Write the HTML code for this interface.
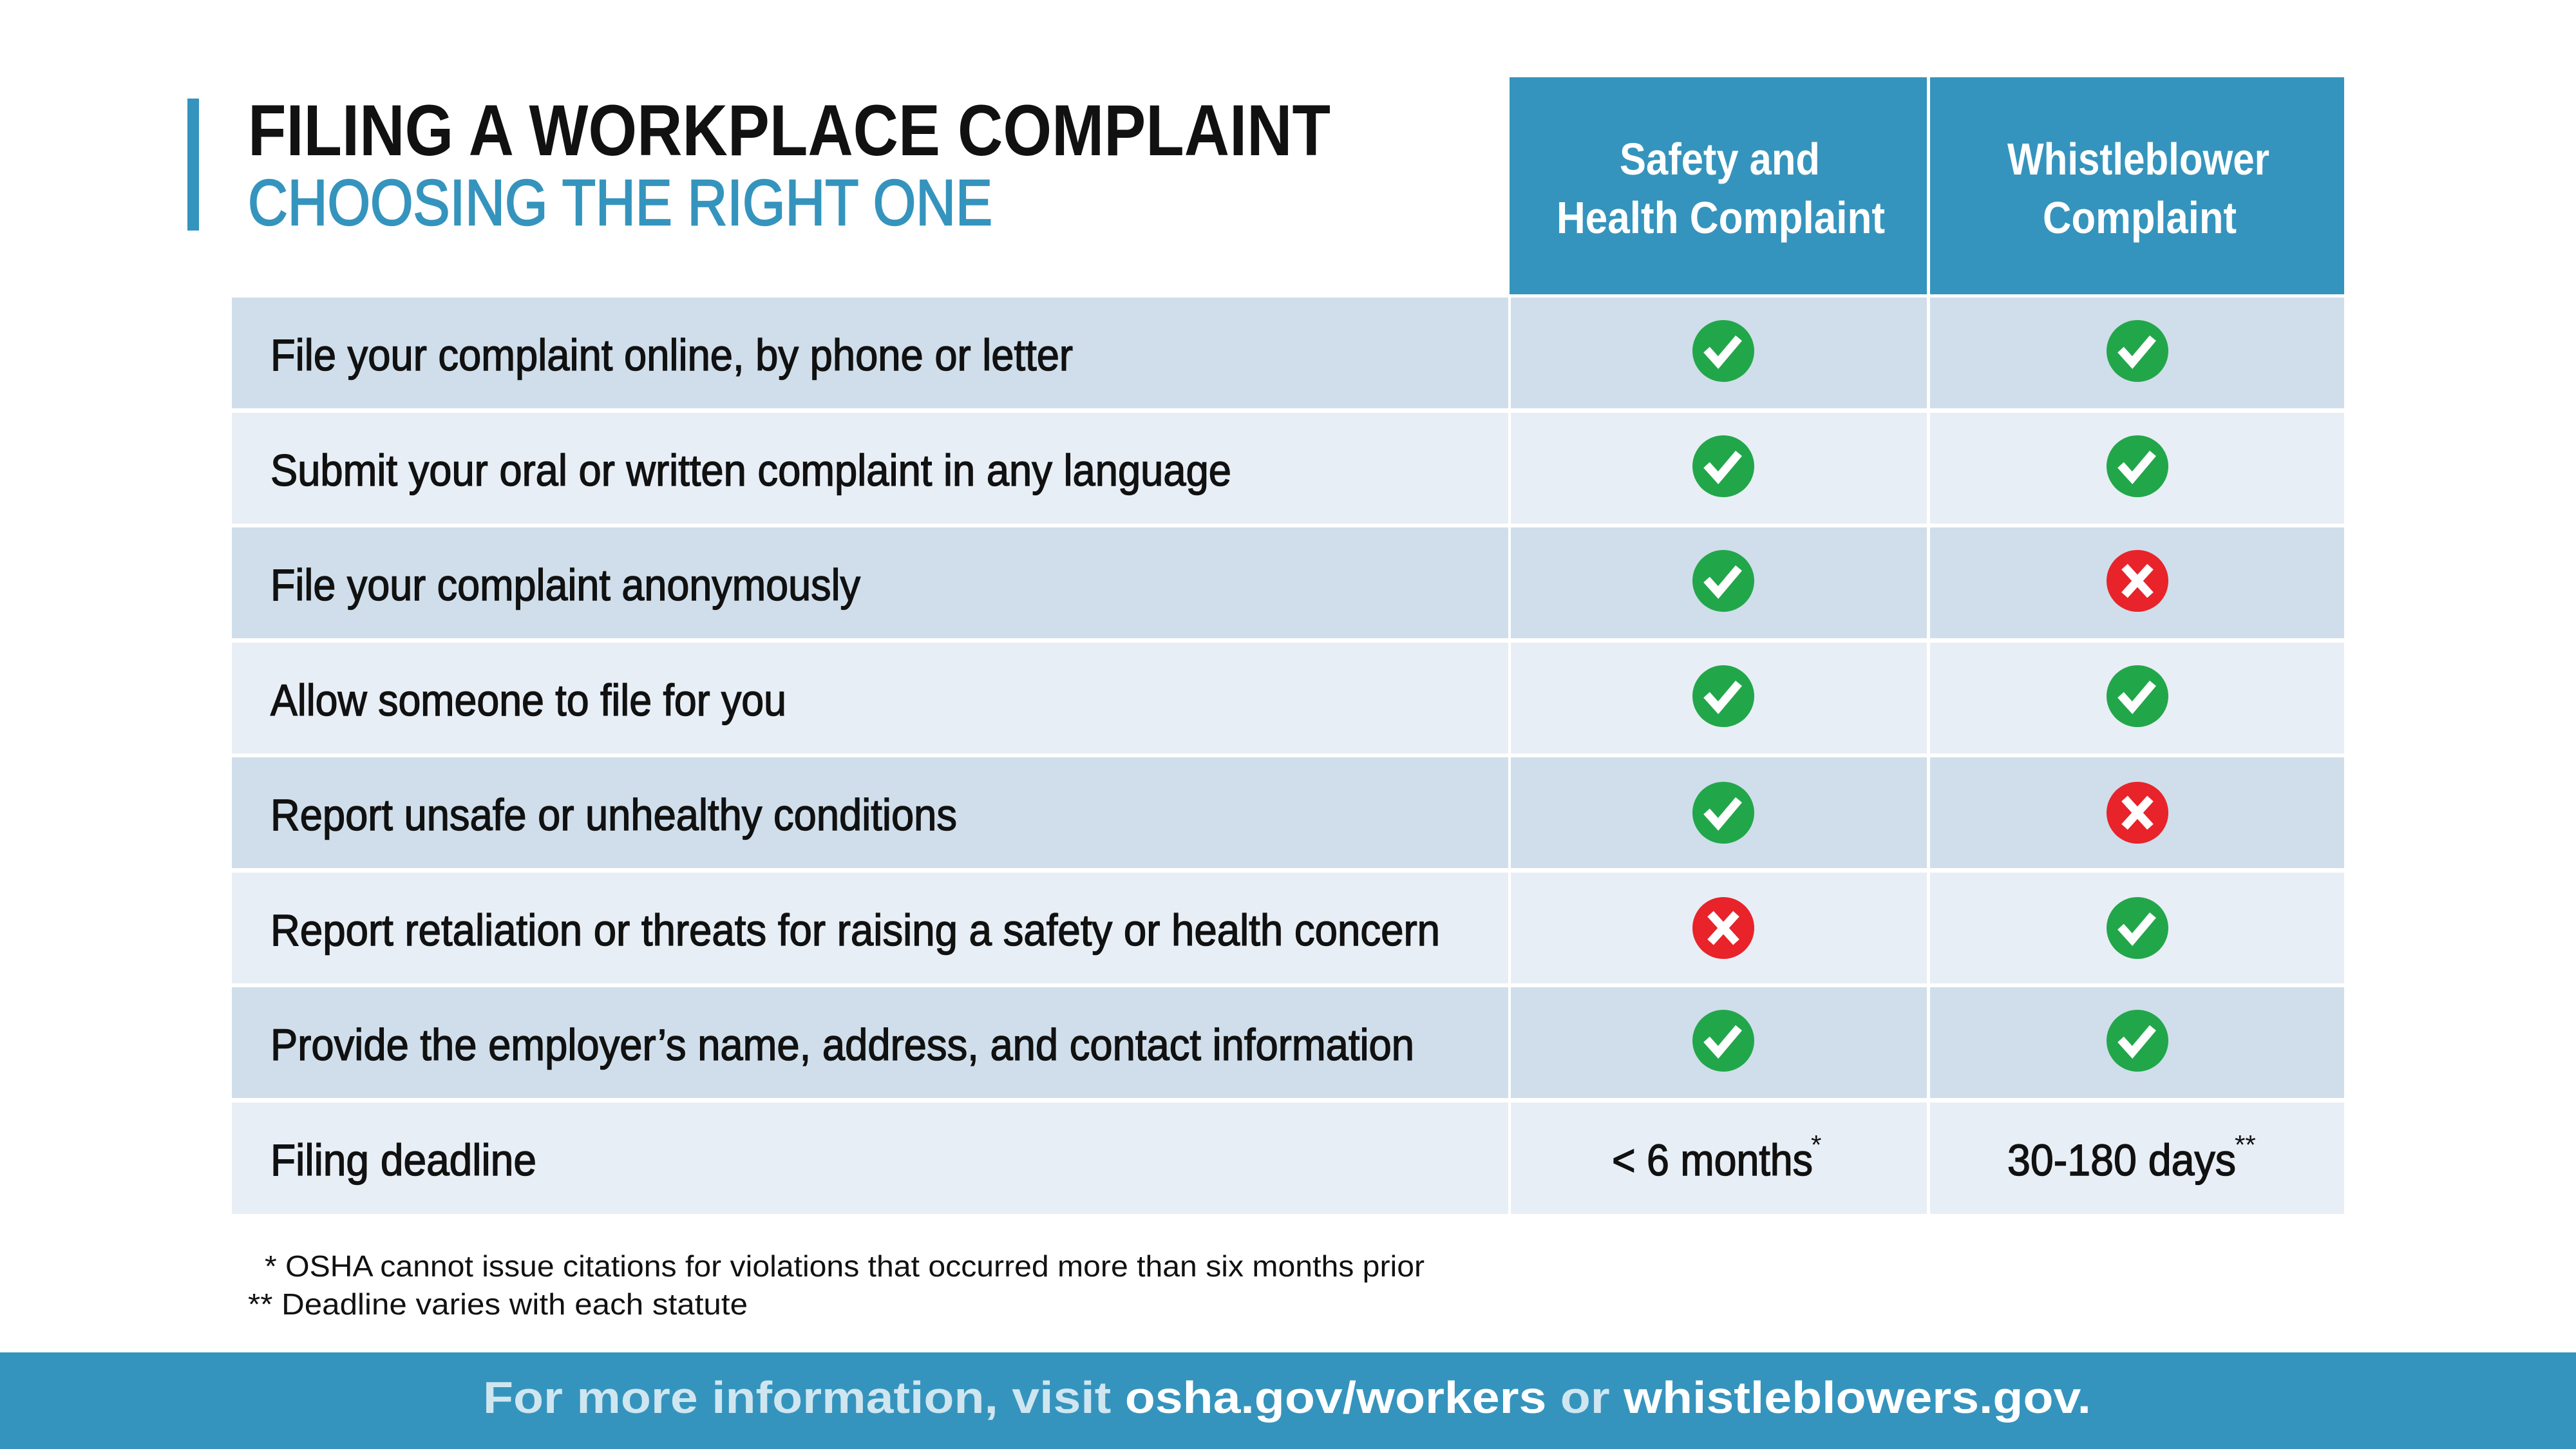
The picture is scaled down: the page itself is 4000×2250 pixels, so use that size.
<!DOCTYPE html>
<html><head><meta charset="utf-8"><style>
html,body{margin:0;padding:0;background:#fff;}
svg{display:block;}
text{font-family:"Liberation Sans Narrow","Liberation Sans",sans-serif;}
</style></head><body>
<svg width="4000" height="2250" viewBox="0 0 4000 2250" xmlns="http://www.w3.org/2000/svg">
<rect width="4000" height="2250" fill="#fff"/>
<rect x="291" y="153" width="18" height="205" fill="#3594bd"/>
<text x="385" y="241" font-size="112" font-weight="bold" fill="#111" textLength="1681" lengthAdjust="spacingAndGlyphs">FILING A WORKPLACE COMPLAINT</text>
<text x="385" y="349" font-size="100" fill="#3594bd" stroke="#3594bd" stroke-width="2.5" textLength="1156" lengthAdjust="spacingAndGlyphs">CHOOSING THE RIGHT ONE</text>
<rect x="2344" y="120" width="648" height="337" fill="#3594bd"/>
<rect x="2997" y="120" width="643" height="337" fill="#3594bd"/>
<g font-size="70" font-weight="bold" fill="#fff">
<text x="2515" y="271" textLength="311" lengthAdjust="spacingAndGlyphs">Safety and</text>
<text x="2417" y="362" textLength="510" lengthAdjust="spacingAndGlyphs">Health Complaint</text>
<text x="3117" y="271" textLength="407" lengthAdjust="spacingAndGlyphs">Whistleblower</text>
<text x="3172" y="362" textLength="301" lengthAdjust="spacingAndGlyphs">Complaint</text>
</g>
<defs>
<g id="ck"><ellipse cx="0" cy="0" rx="48" ry="48" fill="#22a64a"/><polyline points="-26,-2 -8,18 24,-20" fill="none" stroke="#fff" stroke-width="13"/></g>
<g id="xx"><ellipse cx="0" cy="0" rx="48" ry="48" fill="#e8232a"/><path d="M-20,-22 L20,22 M20,-22 L-20,22" stroke="#fff" stroke-width="13"/></g>
</defs>
<g fill="#cfdeea">
<rect x="360" y="462" width="1982" height="172"/><rect x="2346" y="462" width="646" height="172"/><rect x="2997" y="462" width="643" height="172"/>
<rect x="360" y="819" width="1982" height="172"/><rect x="2346" y="819" width="646" height="172"/><rect x="2997" y="819" width="643" height="172"/>
<rect x="360" y="1176" width="1982" height="172"/><rect x="2346" y="1176" width="646" height="172"/><rect x="2997" y="1176" width="643" height="172"/>
<rect x="360" y="1533" width="1982" height="172"/><rect x="2346" y="1533" width="646" height="172"/><rect x="2997" y="1533" width="643" height="172"/>
</g>
<g fill="#e8eef5">
<rect x="360" y="641" width="1982" height="172"/><rect x="2346" y="641" width="646" height="172"/><rect x="2997" y="641" width="643" height="172"/>
<rect x="360" y="998" width="1982" height="172"/><rect x="2346" y="998" width="646" height="172"/><rect x="2997" y="998" width="643" height="172"/>
<rect x="360" y="1355" width="1982" height="172"/><rect x="2346" y="1355" width="646" height="172"/><rect x="2997" y="1355" width="643" height="172"/>
<rect x="360" y="1712" width="1982" height="173"/><rect x="2346" y="1712" width="646" height="173"/><rect x="2997" y="1712" width="643" height="173"/>
</g>
<g font-size="69" fill="#111" stroke="#111" stroke-width="1.5">
<text x="420" y="575" textLength="1246" lengthAdjust="spacingAndGlyphs">File your complaint online, by phone or letter</text>
<text x="420" y="754" textLength="1492" lengthAdjust="spacingAndGlyphs">Submit your oral or written complaint in any language</text>
<text x="420" y="932" textLength="916" lengthAdjust="spacingAndGlyphs">File your complaint anonymously</text>
<text x="420" y="1111" textLength="801" lengthAdjust="spacingAndGlyphs">Allow someone to file for you</text>
<text x="420" y="1289" textLength="1066" lengthAdjust="spacingAndGlyphs">Report unsafe or unhealthy conditions</text>
<text x="420" y="1468" textLength="1816" lengthAdjust="spacingAndGlyphs">Report retaliation or threats for raising a safety or health concern</text>
<text x="420" y="1646" textLength="1776" lengthAdjust="spacingAndGlyphs">Provide the employer’s name, address, and contact information</text>
<text x="420" y="1825" textLength="413" lengthAdjust="spacingAndGlyphs">Filing deadline</text>
<text x="2503" y="1825" textLength="312" lengthAdjust="spacingAndGlyphs">&lt; 6 months</text>
<text x="3117" y="1825" textLength="355" lengthAdjust="spacingAndGlyphs">30-180 days</text>
</g>
<text x="2812" y="1792" font-size="42" fill="#111">*</text>
<text x="3470" y="1792" font-size="42" fill="#111">**</text>
<use href="#ck" x="2676" y="545"/><use href="#ck" x="3319" y="545"/>
<use href="#ck" x="2676" y="724"/><use href="#ck" x="3319" y="724"/>
<use href="#ck" x="2676" y="902"/><use href="#xx" x="3319" y="902"/>
<use href="#ck" x="2676" y="1081"/><use href="#ck" x="3319" y="1081"/>
<use href="#ck" x="2676" y="1262"/><use href="#xx" x="3319" y="1262"/>
<use href="#xx" x="2676" y="1441"/><use href="#ck" x="3319" y="1441"/>
<use href="#ck" x="2676" y="1616"/><use href="#ck" x="3319" y="1616"/>
<g font-size="46" fill="#111">
<text x="411" y="1982" textLength="1801" lengthAdjust="spacingAndGlyphs">* OSHA cannot issue citations for violations that occurred more than six months prior</text>
<text x="385" y="2041" textLength="776" lengthAdjust="spacingAndGlyphs">** Deadline varies with each statute</text>
</g>
<rect x="0" y="2100" width="4000" height="150" fill="#3594bd"/>
<text x="750" y="2194" font-size="70" font-weight="bold" textLength="2497" lengthAdjust="spacingAndGlyphs"><tspan fill="#cfe6f0">For more information, visit </tspan><tspan fill="#fff">osha.gov/workers </tspan><tspan fill="#cfe6f0">or </tspan><tspan fill="#fff">whistleblowers.gov.</tspan></text>
</svg>
</body></html>
